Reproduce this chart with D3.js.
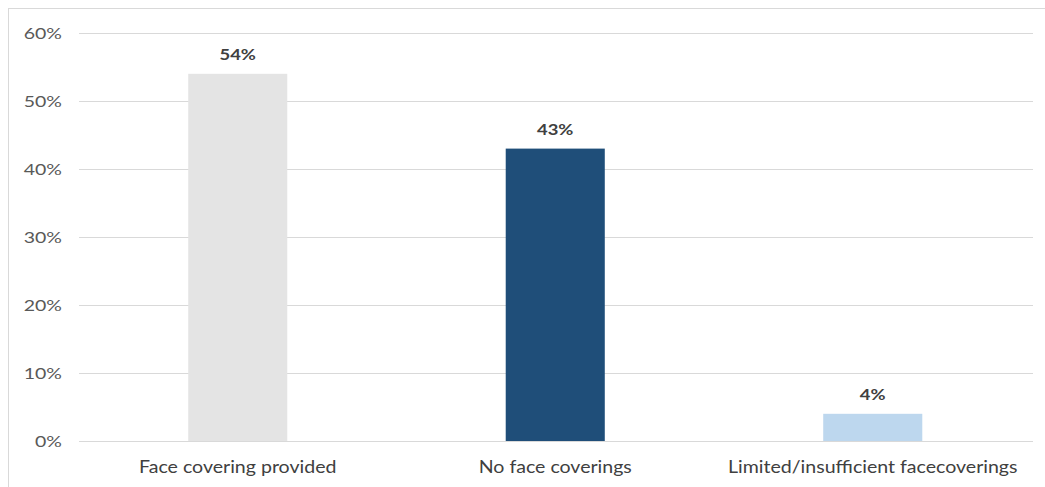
<!DOCTYPE html>
<html><head><meta charset="utf-8">
<script src="https://cdn.jsdelivr.net/npm/d3@7"></script>
<style>body{margin:0;background:#fff}svg{display:block}</style>
</head><body>
<svg id="c" width="1045" height="487"></svg>
<script>
const categories = ["Face covering provided", "No face coverings", "Limited/insufficient facecoverings"];
const values = [0.54, 0.43, 0.04];
const valueLabels = ["54%", "43%", "4%"];
const colors = ["#e4e4e4", "#1f4e79", "#bdd7ee"];
const yTicks = [0, 0.1, 0.2, 0.3, 0.4, 0.5, 0.6];

const svg = d3.select("#c");
const font = "Lato, 'Open Sans', sans-serif";

function stretch(sel, k) {
  sel.each(function() {
    const w = this.getComputedTextLength();
    d3.select(this).attr("textLength", w * k).attr("lengthAdjust", "spacingAndGlyphs");
  });
}

// frame
svg.append("rect").attr("x", 8.5).attr("y", 8.5).attr("width", 1045).attr("height", 490)
  .attr("fill", "none").attr("stroke", "#d9d9d9").attr("stroke-width", 1);

const x = d3.scaleBand().domain(categories).range([79, 1031.5]).paddingInner(0.688).paddingOuter(0.344);
const y = d3.scaleLinear().domain([0, 0.6]).range([441, 33]);

// gridlines
svg.append("g").selectAll("line").data(yTicks).join("line")
  .attr("x1", 79).attr("x2", 1033)
  .attr("y1", d => Math.round(y(d)) + 0.5).attr("y2", d => Math.round(y(d)) + 0.5)
  .attr("stroke", "#d9d9d9").attr("stroke-width", 1);

// y axis
const yAxis = d3.axisLeft(y).tickValues(yTicks).tickFormat(d3.format(".0%")).tickSize(0).tickPadding(0);
const ga = svg.append("g").attr("transform", "translate(62,0)").call(yAxis);
ga.select(".domain").remove();
ga.selectAll("text").attr("font-family", font).attr("font-size", 15).attr("fill", "#595959").attr("dy", "0.34em");
stretch(ga.selectAll("text"), 1.3);

// bars
svg.append("g").selectAll("rect").data(categories).join("rect")
  .attr("x", d => x(d)).attr("width", x.bandwidth())
  .attr("y", (d, i) => y(values[i])).attr("height", (d, i) => y(0) - y(values[i]))
  .attr("fill", (d, i) => colors[i]);

// value labels
const vl = svg.append("g").selectAll("text").data(categories).join("text")
  .attr("x", d => x(d) + x.bandwidth() / 2)
  .attr("y", (d, i) => y(values[i]) - 14)
  .attr("text-anchor", "middle")
  .attr("font-family", font).attr("font-size", 16).attr("font-weight", "bold").attr("fill", "#404040")
  .text((d, i) => valueLabels[i]);
stretch(vl, 1.15);

// x axis
const xAxis = d3.axisBottom(x).tickSize(0).tickPadding(0);
const gx = svg.append("g").attr("transform", "translate(0,460)").call(xAxis);
gx.select(".domain").remove();
gx.selectAll("text").attr("font-family", font).attr("font-size", 17).attr("fill", "#404040").attr("dy", "0.75em");
stretch(gx.selectAll("text"), 1.15);
</script>
</body></html>
